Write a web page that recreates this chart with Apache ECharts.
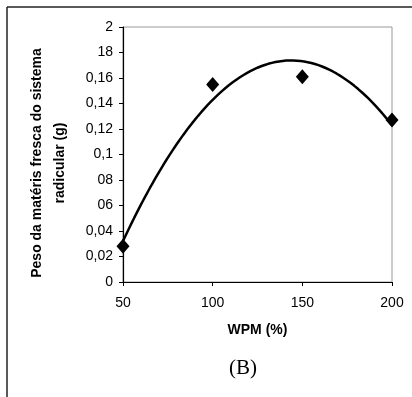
<!DOCTYPE html>
<html>
<head>
<meta charset="utf-8">
<script src="https://cdn.jsdelivr.net/npm/echarts@6/dist/echarts.min.js"></script>
<style>
  html, body { margin: 0; padding: 0; background: #fff; }
  #chart { width: 412px; height: 397px; }
</style>
</head>
<body>
<div id="chart"></div>
<script>
// WPM levels (%) and measured fresh root weight (g)
var wpm = [50, 100, 150, 200];
var pesoRaiz = [0.028, 0.155, 0.161, 0.127];
// Y tick labels as printed on the axis
var yTickLabels = ['0', '0,02', '0,04', '06', '08', '0,1', '0,12', '0,14', '0,16', '18', '2'];

// Second-order polynomial trendline (least squares) through the measured points
function quadFit(xs, ys) {
  var n = xs.length, s = [0, 0, 0, 0, 0], t = [0, 0, 0];
  for (var i = 0; i < n; i++) {
    var p = 1;
    for (var k = 0; k < 5; k++) { s[k] += p; if (k < 3) t[k] += p * ys[i]; p *= xs[i]; }
  }
  var M = [[s[0], s[1], s[2], t[0]], [s[1], s[2], s[3], t[1]], [s[2], s[3], s[4], t[2]]];
  for (var c = 0; c < 3; c++) {
    for (var r = c + 1; r < 3; r++) {
      var f = M[r][c] / M[c][c];
      for (var j = c; j < 4; j++) M[r][j] -= f * M[c][j];
    }
  }
  var coef = [0, 0, 0];
  for (var r2 = 2; r2 >= 0; r2--) {
    var v = M[r2][3];
    for (var j2 = r2 + 1; j2 < 3; j2++) v -= M[r2][j2] * coef[j2];
    coef[r2] = v / M[r2][r2];
  }
  return coef;
}
var coef = quadFit(wpm, pesoRaiz);
var trend = [];
for (var x = wpm[0]; x <= wpm[wpm.length - 1] + 1e-9; x += 1) {
  trend.push([x, coef[0] + coef[1] * x + coef[2] * x * x]);
}

var chart = echarts.init(document.getElementById('chart'), null, { renderer: 'canvas' });
var font = 'Liberation Sans, Arial, sans-serif';
chart.setOption({
  animation: false,
  backgroundColor: '#fff',
  grid: {
    left: 123, right: 20, top: 27, bottom: 115,
    show: true, borderColor: '#9a9a9a', borderWidth: 1
  },
  xAxis: {
    type: 'value', min: 50, max: 200, interval: 50,
    name: 'WPM (%)', nameLocation: 'middle', nameGap: 41,
    nameTextStyle: { fontFamily: font, fontWeight: 'bold', fontSize: 14, color: '#000' },
    axisLine: { lineStyle: { color: '#000', width: 1.2 } },
    axisTick: { show: true, length: 4, inside: false, lineStyle: { color: '#000' } },
    axisLabel: { fontFamily: font, fontSize: 14, color: '#000', margin: 14 },
    splitLine: { show: false }
  },
  yAxis: {
    type: 'value', min: 0, max: 0.2, interval: 0.02,
    axisLine: { show: true, lineStyle: { color: '#000', width: 1.2 } },
    axisTick: { show: true, length: 4, lineStyle: { color: '#000' } },
    axisLabel: {
      fontFamily: font, fontSize: 14, color: '#000', margin: 10,
      formatter: function (v) { return yTickLabels[Math.round(v / 0.02)]; }
    },
    splitLine: { show: false }
  },
  graphic: [
    { type: 'line', shape: { x1: 7, y1: 7, x2: 7, y2: 397 }, style: { stroke: '#222', lineWidth: 1.5 } },
    { type: 'line', shape: { x1: 7, y1: 7, x2: 412, y2: 7 }, style: { stroke: '#222', lineWidth: 1.5 } },
    {
      type: 'text', x: 48.5, y: 163, rotation: Math.PI / 2,
      style: {
        text: 'Peso da matéris fresca do sistema\nradicular (g)',
        font: 'bold 14px "Liberation Sans", Arial, sans-serif', fill: '#000',
        textAlign: 'center', textVerticalAlign: 'middle', lineHeight: 23
      }
    },
    {
      type: 'text', x: 243, y: 368,
      style: {
        text: '(B)', font: '21px "Liberation Serif", "Times New Roman", serif', fill: '#000',
        textAlign: 'center', textVerticalAlign: 'middle'
      }
    }
  ],
  series: [
    {
      type: 'line', data: trend, showSymbol: false, smooth: false,
      lineStyle: { color: '#000', width: 2.5 }, z: 2
    },
    {
      type: 'scatter', data: wpm.map(function (w, i) { return [w, pesoRaiz[i]]; }),
      symbol: 'diamond', symbolSize: [13, 15],
      itemStyle: { color: '#000', opacity: 1 }, z: 3
    }
  ]
});
</script>
</body>
</html>
